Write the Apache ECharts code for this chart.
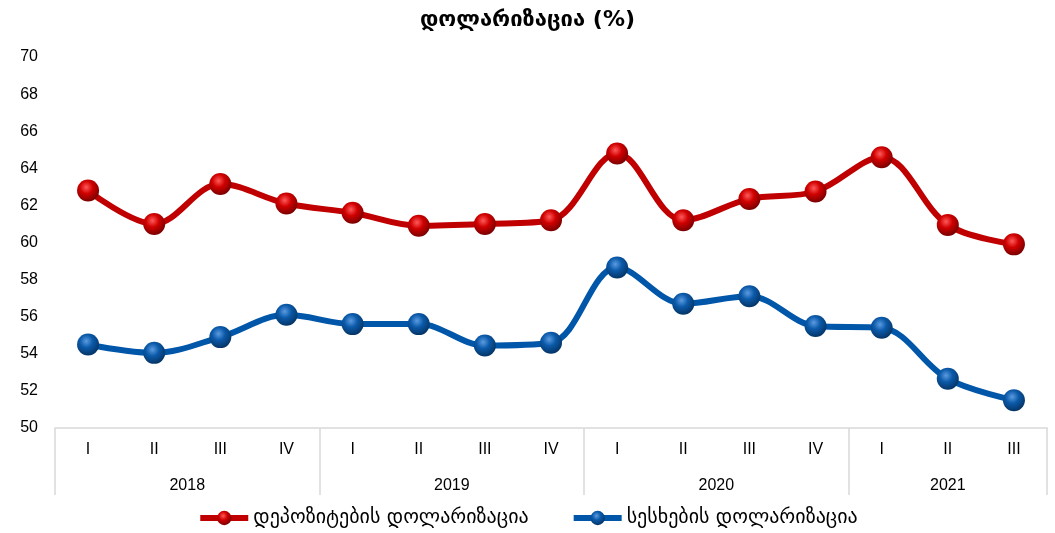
<!DOCTYPE html>
<html>
<head>
<meta charset="utf-8">
<script src="https://cdn.jsdelivr.net/npm/echarts@6/dist/echarts.min.js"></script>
<style>html,body{margin:0;padding:0;background:#fff}#c{width:1055px;height:533px}</style>
</head>
<body>
<div id="c"></div>
<script>
const quarters = ['I','II','III','IV','I','II','III','IV','I','II','III','IV','I','II','III'];
const years = ['2018','2019','2020','2021'];
const yearSpans = [4,4,4,3];
const depositName = 'დეპოზიტების დოლარიზაცია';
const loanName = 'სესხების დოლარიზაცია';
const deposits = [62.8,61.0,63.15,62.1,61.6,60.9,61.0,61.2,64.8,61.2,62.35,62.75,64.6,60.95,59.9];
const loans = [54.5,54.05,54.9,56.1,55.6,55.6,54.45,54.6,58.65,56.7,57.1,55.5,55.4,52.65,51.5];

// half-step positions for the year level of the axis
const halfCats = [];
for (let i = 0; i <= quarters.length * 2; i++) halfCats.push('');
const yearLabelIdx = {};
const boundaryIdx = [0];
let start = 0;
years.forEach((y, k) => {
  const mid = start * 2 + yearSpans[k];
  halfCats[mid] = y;
  yearLabelIdx[mid] = true;
  start += yearSpans[k];
  boundaryIdx.push(start * 2);
});

const geo = '"DejaVu Sans", "Noto Sans", sans-serif';
const lat = '"Liberation Sans", Arial, sans-serif';

function sphere(c0, c1, c2) {
  return {
    type: 'radial', x: 0.42, y: 0.35, r: 0.65,
    colorStops: [{offset: 0, color: c0}, {offset: 0.45, color: c1}, {offset: 1, color: c2}]
  };
}

const chart = echarts.init(document.getElementById('c'), null, {renderer: 'canvas'});
chart.setOption({
  animation: false,
  title: {
    text: 'დოლარიზაცია (%)', left: 'center', top: 4,
    textStyle: {fontFamily: geo, fontWeight: 'bold', fontSize: 22, color: '#000'}
  },
  grid: {left: 55, right: 8, top: 57, bottom: 105, containLabel: false},
  legend: {
    bottom: 0, left: 'center', itemWidth: 48, itemHeight: 18, itemGap: 42,
    textStyle: {fontFamily: geo, fontSize: 20, color: '#000'},
    lineStyle: {width: 6},
    data: [depositName, loanName]
  },
  xAxis: [
    {
      type: 'category', data: quarters, position: 'bottom',
      axisLine: {show: true, lineStyle: {color: '#d9d9d9', width: 1.5}},
      axisTick: {show: false},
      axisLabel: {fontFamily: lat, fontSize: 16, color: '#000', margin: 14}
    },
    {
      type: 'category', data: halfCats, position: 'bottom', boundaryGap: false,
      axisLine: {show: false},
      axisTick: {
        show: true, length: 67, lineStyle: {color: '#d9d9d9', width: 1.5},
        interval: (idx) => boundaryIdx.indexOf(idx) >= 0
      },
      axisLabel: {
        fontFamily: lat, fontSize: 16, color: '#000', margin: 50,
        interval: (idx) => !!yearLabelIdx[idx]
      }
    }
  ],
  yAxis: {
    type: 'value', min: 50, max: 70, interval: 2,
    axisLine: {show: false}, axisTick: {show: false}, splitLine: {show: false},
    axisLabel: {fontFamily: lat, fontSize: 16, color: '#000', margin: 17}
  },
  series: [
    {
      name: depositName, type: 'line', data: deposits, xAxisIndex: 0,
      smooth: 0.35, symbol: 'circle', symbolSize: 22,
      lineStyle: {color: '#C00000', width: 6},
      itemStyle: {color: sphere('#ff5a5a', '#d00000', '#7a0000')},
      z: 3
    },
    {
      name: loanName, type: 'line', data: loans, xAxisIndex: 0,
      smooth: 0.35, symbol: 'circle', symbolSize: 22,
      lineStyle: {color: '#0056A8', width: 6},
      itemStyle: {color: sphere('#5b9be0', '#0b5aaa', '#053566')},
      z: 3
    }
  ]
});
</script>
</body>
</html>
